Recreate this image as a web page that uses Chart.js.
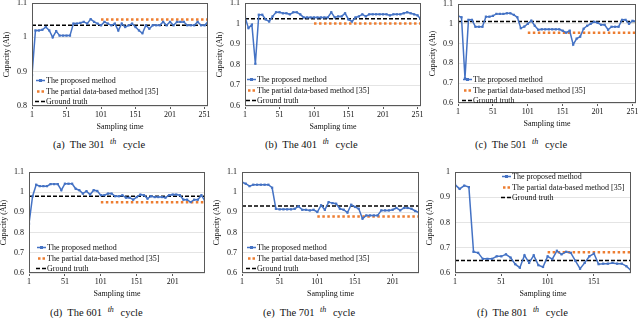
<!DOCTYPE html>
<html>
<head>
<meta charset="utf-8">
<script src="https://cdn.jsdelivr.net/npm/chart.js"></script>
<style>
  html, body { margin: 0; padding: 0; background: #fff; }
  body { width: 640px; height: 332px; position: relative; overflow: hidden; font-family: 'Liberation Serif', 'Times New Roman', serif; }
  canvas { position: absolute; }
  .cap { position: absolute; font-size: 10.5px; color: #111; white-space: nowrap; }
  .cap sup { font-size: 8px; font-style: italic; vertical-align: 4px; margin: 0 4px 0 3px; }
</style>
</head>
<body>
<script>
const cycles = ['301', '401', '501', '601', '701', '801'];
const panelLetters = ['a', 'b', 'c', 'd', 'e', 'f'];
const legendLabels = ['The proposed method', 'The partial data-based method [35]', 'Ground truth'];

const proposed301 = [0.89, 1.02, 1.02, 1.022, 1.03, 1.02, 1.0, 1.018, 1.005, 1.005,
  1.005, 1.005, 1.04, 1.04, 1.042, 1.045, 1.04, 1.053, 1.045, 1.04,
  1.035, 1.045, 1.04, 1.035, 1.04, 1.02, 1.04, 1.03, 1.035, 1.04,
  1.03, 1.02, 1.012, 1.035, 1.025, 1.035, 1.035, 1.035, 1.045, 1.035,
  1.045, 1.035, 1.045, 1.045, 1.045, 1.035, 1.035, 1.035, 1.045, 1.035,
  1.035, 1.045];
const proposed401 = [1.032, 0.978, 0.995, 0.805, 1.043, 1.043, 1.02, 1.01, 1.035, 1.055,
  1.055, 1.05, 1.05, 1.045, 1.055, 1.055, 1.045, 1.03, 1.03, 1.03,
  1.03, 1.03, 1.03, 1.03, 1.03, 1.055, 1.03, 1.035, 1.035, 1.05,
  1.02, 1.01, 1.03, 1.035, 1.045, 1.035, 1.045, 1.045, 1.045, 1.045,
  1.045, 1.045, 1.04, 1.045, 1.045, 1.045, 1.05, 1.055, 1.05, 1.045,
  1.04, 1.02];
const proposed501 = [1.04, 1.033, 0.725, 1.02, 1.02, 0.985, 0.985, 0.985, 1.036, 1.036,
  1.04, 1.05, 1.05, 1.05, 1.053, 1.053, 1.045, 1.033, 0.978, 0.986,
  1.0, 1.016, 0.99, 0.97, 0.972, 0.972, 0.972, 0.972, 0.972, 0.972,
  0.965, 0.955, 0.965, 0.895, 0.925, 0.935, 0.975, 0.99, 1.0, 1.01,
  1.005, 0.995, 0.995, 0.97, 0.985, 0.985, 0.985, 1.02, 1.02, 1.0,
  1.015, 1.012];
const proposed601 = [0.844, 0.98, 1.037, 1.03, 1.03, 1.03, 1.04, 1.04, 1.04, 1.01,
  1.042, 1.042, 1.042, 1.017, 1.01, 0.993, 1.005, 0.988, 1.01, 1.006,
  0.985, 0.985, 0.993, 0.993, 0.98, 0.98, 0.985, 0.973, 0.973, 0.963,
  0.976, 0.988, 0.985, 0.968, 0.98, 0.976, 0.976, 0.976, 0.973, 0.985,
  0.988, 0.988, 0.985, 0.963, 0.963, 0.951, 0.963, 0.963, 0.985, 0.956];
const proposed701 = [1.05, 1.042, 1.03, 1.037, 1.037, 1.037, 1.037, 1.037, 1.022, 0.918,
  0.915, 0.915, 0.915, 0.915, 0.918, 0.93, 0.913, 0.913, 0.91, 0.913,
  0.902, 0.935, 0.913, 0.951, 0.946, 0.943, 0.918, 0.913, 0.899, 0.938,
  0.927, 0.918, 0.869, 0.885, 0.885, 0.885, 0.885, 0.91, 0.91, 0.91,
  0.913, 0.922, 0.91, 0.922, 0.922, 0.918, 0.907, 0.899];
const proposed801 = [0.95, 0.933, 0.946, 0.94, 0.684, 0.68, 0.656, 0.656, 0.656, 0.666,
  0.666, 0.674, 0.661, 0.635, 0.621, 0.67, 0.64, 0.67, 0.631, 0.624,
  0.666, 0.655, 0.688, 0.674, 0.684, 0.68, 0.648, 0.617, 0.64, 0.666,
  0.677, 0.635, 0.637, 0.637, 0.64, 0.637, 0.637, 0.627, 0.61];
const proposedSeries = [proposed301, proposed401, proposed501, proposed601, proposed701, proposed801];

const groundTruth = [1.035, 1.024, 1.011, 0.98, 0.932, 0.65];
const partialMethod = [1.052, 1.0, 0.955, 0.95, 0.88, 0.682];
const partialStart = 101;
const sampleStep = 5;
const xEnd = [256, 256, 256, 246, 236, 191];

const xTicks = [
  [1, 51, 101, 151, 201, 251],
  [1, 51, 101, 151, 201, 251],
  [1, 51, 101, 151, 201, 251],
  [1, 51, 101, 151, 201],
  [1, 51, 101, 151, 201],
  [1, 51, 101, 151]
];
const yTicks = [
  [0.8, 0.9, 1, 1.1],
  [0.6, 0.7, 0.8, 0.9, 1, 1.1],
  [0.6, 0.7, 0.8, 0.9, 1, 1.1],
  [0.6, 0.7, 0.8, 0.9, 1, 1.1],
  [0.6, 0.7, 0.8, 0.9, 1, 1.1],
  [0.6, 0.7, 0.8, 0.9, 1]
];

// Mise en page : zone de tracé de chaque sous-figure (px dans la page)
const areas = [
  { L: 32, T: 3, R: 210, B: 106, lx: 14, ly: 77, cx: 53, cy: 137 },
  { L: 245, T: 3, R: 423, B: 106, lx: 12, ly: 76, cx: 265, cy: 137 },
  { L: 458, T: 4, R: 638, B: 103, lx: 15, ly: 75, cx: 475, cy: 137 },
  { L: 29, T: 172, R: 207, B: 273, lx: 18, ly: 75, cx: 50, cy: 305 },
  { L: 242, T: 172, R: 421, B: 273, lx: 15, ly: 75, cx: 263, cy: 305 },
  { L: 455, T: 172, R: 633, B: 273, lx: 57, ly: 4, cx: 477, cy: 305 }
];

const FONT = "'Liberation Serif', 'Times New Roman', serif";
const BLUE = '#4472C4';
const ORANGE = '#ED7D31';

// Cadre autour de la zone de tracé + légende dessinée à l'intérieur
const frameAndLegend = {
  id: 'frameAndLegend',
  afterDraw(chart, args, opts) {
    const { ctx, chartArea: a } = chart;
    ctx.save();
    ctx.strokeStyle = '#595959';
    ctx.lineWidth = 1;
    ctx.setLineDash([]);
    ctx.strokeRect(Math.round(a.left) + 0.5, Math.round(a.top) + 0.5, Math.round(a.width) - 1, Math.round(a.height) - 1);

    const tx = a.left + opts.x;
    ctx.font = '8px ' + FONT;
    ctx.textBaseline = 'middle';
    ctx.fillStyle = '#111';
    legendLabels.forEach((label, k) => {
      const y = Math.round(a.top + opts.y + k * 10.5) + 0.5;
      if (k === 0) {
        ctx.strokeStyle = BLUE;
        ctx.lineWidth = 1.5;
        ctx.beginPath(); ctx.moveTo(tx - 10, y); ctx.lineTo(tx - 1, y); ctx.stroke();
        ctx.fillStyle = BLUE;
        ctx.fillRect(tx - 7, y - 1.5, 3, 3);
      } else if (k === 1) {
        ctx.fillStyle = ORANGE;
        ctx.fillRect(tx - 9, y - 1.25, 2.5, 2.5);
        ctx.fillRect(tx - 4.5, y - 1.25, 2.5, 2.5);
      } else {
        ctx.strokeStyle = '#000';
        ctx.lineWidth = 1.5;
        ctx.setLineDash([4, 2]);
        ctx.beginPath(); ctx.moveTo(tx - 11, y); ctx.lineTo(tx - 1, y); ctx.stroke();
        ctx.setLineDash([]);
      }
      ctx.fillStyle = '#111';
      ctx.fillText(label, tx, y);
    });
    ctx.restore();
  }
};

function drawPanel(i) {
  const ar = areas[i];
  const left = ar.L - 32, top = ar.T - 4;
  const width = ar.R - left + 2, height = ar.B - top + 26;
  const canvas = document.createElement('canvas');
  canvas.width = width;
  canvas.height = height;
  canvas.style.left = left + 'px';
  canvas.style.top = top + 'px';
  canvas.style.width = width + 'px';
  canvas.style.height = height + 'px';
  document.body.appendChild(canvas);

  const end = xEnd[i];
  const points = proposedSeries[i].map((v, k) => ({ x: 1 + k * sampleStep, y: v }));
  const yt = yTicks[i];
  const xt = xTicks[i];
  const tickFont = { family: FONT, size: 8 };

  new Chart(canvas, {
    type: 'line',
    data: {
      datasets: [
        { label: legendLabels[0], data: points, borderColor: BLUE, backgroundColor: BLUE,
          borderWidth: 1.5, pointStyle: 'rect', pointRadius: 1.6, pointBorderWidth: 0, order: 0 },
        { label: legendLabels[1], data: [{ x: partialStart, y: partialMethod[i] }, { x: end, y: partialMethod[i] }],
          borderColor: ORANGE, borderWidth: 2.5, borderDash: [2.5, 2.5], borderCapStyle: 'butt', pointRadius: 0, order: 2 },
        { label: legendLabels[2], data: [{ x: 1, y: groundTruth[i] }, { x: end, y: groundTruth[i] }],
          borderColor: '#000', borderWidth: 1.5, borderDash: [4, 2], pointRadius: 0, order: 1 }
      ]
    },
    options: {
      responsive: false,
      animation: false,
      devicePixelRatio: 1,
      layout: { padding: { top: 4, right: 2, left: 0, bottom: 0 } },
      plugins: {
        legend: { display: false },
        tooltip: { enabled: false },
        frameAndLegend: { x: ar.lx, y: ar.ly }
      },
      scales: {
        x: {
          type: 'linear', min: 1, max: end,
          afterBuildTicks: s => { s.ticks = xt.map(v => ({ value: v })); },
          afterFit: s => { s.height = 26; s.paddingLeft = 0; s.paddingRight = 0; },
          grid: { drawOnChartArea: false, drawTicks: true, tickLength: 3, color: '#595959' },
          border: { display: false },
          ticks: { padding: 1, font: tickFont, color: '#111', maxRotation: 0, autoSkip: false },
          title: { display: true, text: 'Sampling time', font: tickFont, color: '#111', padding: 0 }
        },
        y: {
          min: yt[0], max: yt[yt.length - 1],
          afterBuildTicks: s => { s.ticks = yt.map(v => ({ value: v })); },
          afterFit: s => { s.width = 32; s.paddingTop = 0; s.paddingBottom = 0; },
          grid: { color: '#e4e4e4', drawTicks: false },
          border: { display: false },
          ticks: { padding: 5, font: tickFont, color: '#111', callback: v => String(+(+v).toFixed(1)) },
          title: { display: true, text: 'Capacity (Ah)', font: tickFont, color: '#111', padding: { top: 2, bottom: 0 } }
        }
      }
    },
    plugins: [frameAndLegend]
  });

  const cap = document.createElement('div');
  cap.className = 'cap';
  cap.style.left = ar.cx + 'px';
  cap.style.top = ar.cy + 'px';
  cap.innerHTML = '(' + panelLetters[i] + ')&nbsp; The ' + cycles[i] + ' <sup>th</sup> cycle';
  document.body.appendChild(cap);
}

for (let i = 0; i < 6; i++) drawPanel(i);
</script>
</body>
</html>
